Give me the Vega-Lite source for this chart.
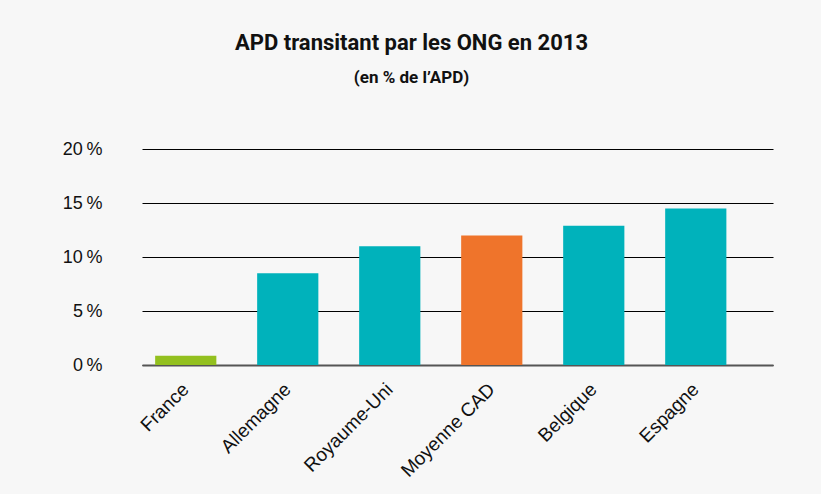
{
  "$schema": "https://vega.github.io/schema/vega-lite/v6.json",
  "autosize": {"type": "none"},
  "padding": {"left": 142, "top": 149, "right": 48, "bottom": 129},
  "width": 631,
  "height": 216,
  "background": "#f7f7f7",
  "title": {
    "text": "APD transitant par les ONG en 2013",
    "subtitle": "(en % de l’APD)",
    "anchor": "middle",
    "dx": -46,
    "offset": 53,
    "font": "Roboto",
    "fontSize": 22,
    "fontWeight": "bold",
    "color": "#111111",
    "subtitleFont": "Roboto",
    "subtitleFontSize": 17,
    "subtitleFontWeight": "bold",
    "subtitleColor": "#111111",
    "subtitlePadding": 15
  },
  "config": {"view": {"stroke": null}},
  "data": {
    "values": [
      {"pays": "France", "valeur": 0.85, "groupe": "France"},
      {"pays": "Allemagne", "valeur": 8.5, "groupe": "Autre"},
      {"pays": "Royaume-Uni", "valeur": 11.0, "groupe": "Autre"},
      {"pays": "Moyenne CAD", "valeur": 12.0, "groupe": "CAD"},
      {"pays": "Belgique", "valeur": 12.9, "groupe": "Autre"},
      {"pays": "Espagne", "valeur": 14.5, "groupe": "Autre"}
    ]
  },
  "mark": {"type": "bar"},
  "encoding": {
    "x": {
      "field": "pays",
      "type": "nominal",
      "sort": null,
      "scale": {"paddingInner": 0.4, "paddingOuter": 0.293, "align": 0.22},
      "axis": {
        "title": null,
        "labelAngle": -45,
        "labelAlign": "right",
        "labelBaseline": "middle",
        "labelFont": "Liberation Sans",
        "labelFontSize": 19,
        "labelColor": "#111111",
        "labelPadding": 21,
        "ticks": false,
        "domainColor": "#555555",
        "domainWidth": 2,
        "grid": false
      }
    },
    "y": {
      "field": "valeur",
      "type": "quantitative",
      "scale": {"domain": [0, 20]},
      "axis": {
        "title": null,
        "values": [0, 5, 10, 15, 20],
        "labelExpr": "datum.value + '\u2009%'",
        "labelFont": "Liberation Sans",
        "labelFontSize": 18,
        "labelColor": "#111111",
        "labelPadding": 40,
        "ticks": false,
        "domain": false,
        "grid": true,
        "gridColor": "#000000",
        "gridWidth": 1,
        "gridOpacity": 1
      }
    },
    "color": {
      "field": "groupe",
      "type": "nominal",
      "scale": {"domain": ["France", "Autre", "CAD"], "range": ["#93c01f", "#00b2bb", "#ef742b"]},
      "legend": null
    }
  }
}
